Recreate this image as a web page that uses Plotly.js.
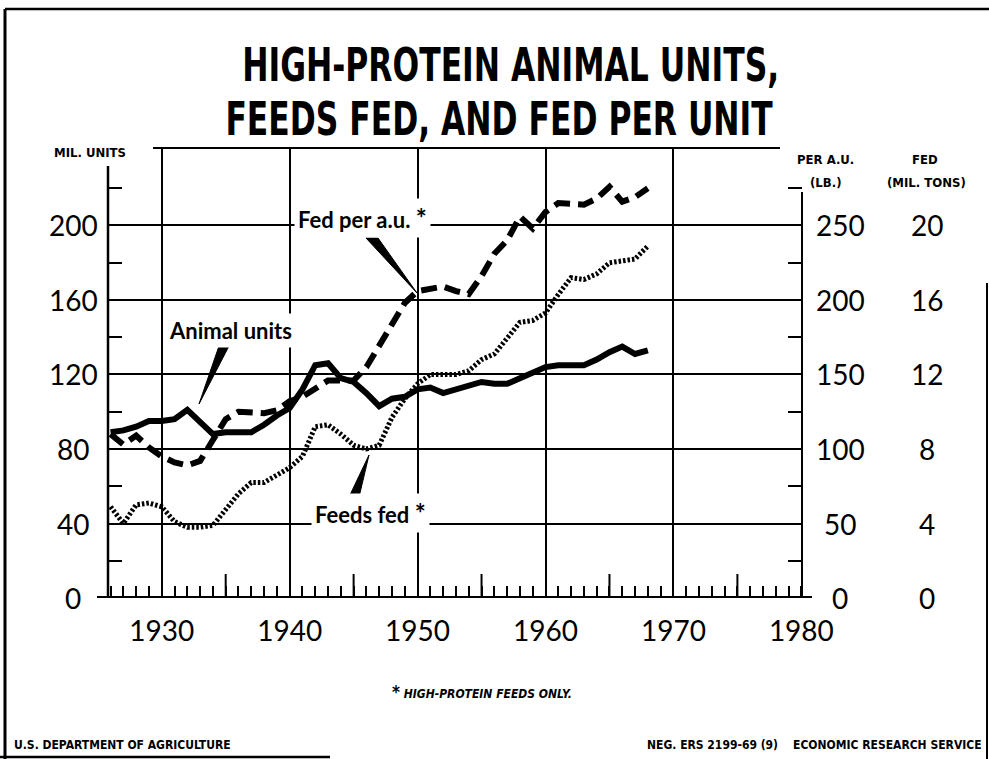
<!DOCTYPE html>
<html>
<head>
<meta charset="utf-8">
<script src="https://cdn.plot.ly/plotly-3.0.1.min.js"></script>
<style>html,body{margin:0;padding:0;background:#fff}#chart{width:989px;height:759px}</style>
</head>
<body>
<div id="chart"></div>
<script>
// ---- data ----
var years = [1926,1927,1928,1929,1930,1931,1932,1933,1934,1935,1936,1937,1938,1939,1940,
             1941,1942,1943,1944,1945,1946,1947,1948,1949,1950,1951,1952,1953,1954,1955,
             1956,1957,1958,1959,1960,1961,1962,1963,1964,1965,1966,1967,1968];
// Animal units (million units, left axis)
var animalUnits = [89,90,92,95,95,96,101,95,88,89,89,89,93,98,102,
                   112,125,126,118,116,110,103,107,108,112,113,110,112,114,116,
                   115,115,118,121,124,125,125,125,128,132,135,131,133];
// Fed per animal unit (lb., right axis "PER A.U.")
var fedPerAU = [110,103,109,101,95,91,89,92,106,120,125,125,124,126,132,
                135,140,146,146,146,155,169,184,198,206,208,209,206,204,216,
                231,240,256,248,259,265,265,264,268,276,266,269,275];
// Feeds fed (mil. tons, right axis "FED")
var feedsFed = [4.9,4.0,5.0,5.1,4.9,4.1,3.8,3.8,3.9,4.8,5.6,6.2,6.2,6.6,7.0,
                7.6,9.2,9.3,8.8,8.2,8.0,8.2,9.7,10.7,11.5,12.0,12.0,12.0,12.2,12.8,
                13.1,14.0,14.8,14.9,15.3,16.3,17.2,17.1,17.4,18.0,18.1,18.2,18.9];

var xTickVals = [1930,1940,1950,1960,1970,1980];
var xTickText = ['1930','1940','1950','1960','1970','1980'];
var xHalfDecadeTicks = [1935,1945,1955,1965,1975];
var leftTicks = [0,40,80,120,160,200];
var perAUTicks = [0,50,100,150,200,250];
var fedTicks = [0,4,8,12,16,20];

// ---- layout helpers ----
var W = 989, H = 759, ML = 108, MR = 187, MT = 148, MB = 161;
var PW = W - ML - MR, PH = H - MT - MB;
function px(x){ return (x - ML) / PW; }
function py(y){ return (H - MB - y) / PH; }

var NUMFONT = 'Lato, "Open Sans", sans-serif';
var BOLDFONT = 'Lato, "Open Sans", sans-serif';
var NARROW = '"DejaVu Sans Condensed", "DejaVu Sans", sans-serif';

var traces = [
  {x: years, y: feedsFed, xaxis: 'x', yaxis: 'y3', mode: 'lines',
   line: {color: '#000', width: 5, dash: '2.5px,2px'}, name: 'Feeds fed'},
  {x: years, y: fedPerAU, xaxis: 'x', yaxis: 'y2', mode: 'lines',
   line: {color: '#000', width: 6, dash: '16px,8px'}, name: 'Fed per a.u.'},
  {x: years, y: animalUnits, xaxis: 'x', yaxis: 'y', mode: 'lines',
   line: {color: '#000', width: 6}, name: 'Animal units'}
];

var xr = [1925.8, 1980.05];
var yr = [0, 241.6];

var annotations = [];
leftTicks.forEach(function(v){
  annotations.push({xref:'paper', yref:'y', x: px(73), y: v, text: String(v), showarrow:false,
    xanchor:'center', yanchor:'middle', font:{family:NUMFONT, size:28, color:'#000'}});
});
perAUTicks.forEach(function(v){
  annotations.push({xref:'paper', yref:'y2', x: px(840), y: v, text: String(v), showarrow:false,
    xanchor:'center', yanchor:'middle', font:{family:NUMFONT, size:28, color:'#000'}});
});
fedTicks.forEach(function(v){
  annotations.push({xref:'paper', yref:'y3', x: px(927), y: v, text: String(v), showarrow:false,
    xanchor:'center', yanchor:'middle', font:{family:NUMFONT, size:28, color:'#000'}});
});

function txt(x, y, t, font, xa, extra){
  var a = {xref:'paper', yref:'paper', x: px(x), y: py(y), text: t, showarrow:false,
    xanchor: xa || 'center', yanchor:'middle', font: font};
  if (extra) for (var k in extra) a[k] = extra[k];
  annotations.push(a);
}
var titleFont = {family: NARROW, size: 46, color:'#000', weight: 700};
txt(511, 65, 'HIGH-PROTEIN ANIMAL UNITS,', titleFont);
txt(499, 119, 'FEEDS FED, AND FED PER UNIT', titleFont);

var hdr = {family: NARROW, size: 13, color:'#000', weight: 700};
txt(90, 153, 'MIL. UNITS', hdr, 'center', {bgcolor:'#fff'});
txt(825, 160, 'PER A.U.', hdr);
txt(925, 160, 'FED', hdr);
txt(826, 182, '(LB.)', hdr);
txt(926, 182, '(MIL. TONS)', hdr);

var lab = {family: BOLDFONT, size: 22, color:'#000', weight: 700};
txt(362, 218, 'Fed per a.u. <span style="font-size:26px">*</span>', lab, 'center', {bgcolor:'#fff', borderpad:3});
txt(230, 330, 'Animal units', lab, 'center', {bgcolor:'#fff', borderpad:3});
txt(370, 513, 'Feeds fed <span style="font-size:26px">*</span>', lab, 'center', {bgcolor:'#fff', borderpad:3});

var small = {family: NARROW, size: 12, color:'#000', weight: 700, style:'italic'};
txt(482, 692, '<span style="font-size:17px">*</span> HIGH-PROTEIN FEEDS ONLY.', small);
var foot = {family: NARROW, size: 12, color:'#000', weight: 700};
txt(12, 745, 'U.S. DEPARTMENT OF AGRICULTURE', foot, 'left');
txt(984, 745, 'NEG. ERS 2199-69 (9)&nbsp;&nbsp;&nbsp;&nbsp;ECONOMIC RESEARCH SERVICE', foot, 'right');

function line(x0,y0,x1,y1,w, xref, yref){
  return {type:'line', xref: xref||'paper', yref: yref||'paper', x0:x0, y0:y0, x1:x1, y1:y1,
          line:{color:'#000', width:w}, layer:'above'};
}
function wedge(pts){
  var d = 'M ' + pts.map(function(p){ return px(p[0]) + ',' + py(p[1]); }).join(' L ') + ' Z';
  return {type:'path', xref:'paper', yref:'paper', path:d, fillcolor:'#000', line:{color:'#000', width:1}, layer:'above'};
}

var shapes = [
  // axes
  line(px(97), 0, px(812), 0, 4, 'paper', 'y'),
  line(0, 0, 0, 232, 2.5, 'paper', 'y'),
  line(1, 0, 1, 218, 2, 'paper', 'y'),
  line(px(153), 1, px(780), 1, 2),
  // outer frame
  line(px(5), py(9), px(5), py(759), 3),
  line(px(5), py(9), px(989), py(9), 2.5),
  line(px(987), py(283), px(987), py(759), 2),
  line(px(0), py(757), px(330), py(757), 2.5),
  // pointers
  wedge([[366,238],[378,238],[417,293]]),
  wedge([[219,346],[229,346],[199,404]]),
  wedge([[349,497],[359,497],[369,455]])
];
// longer ticks at the half-decades on the time axis
xHalfDecadeTicks.forEach(function(yv){
  shapes.push({type:'line', xref:'x', yref:'paper', x0: yv, x1: yv, y0: 0, y1: 24/PH,
    line:{color:'#000', width:2}, layer:'above'});
});

var layout = {
  width: W, height: H,
  margin: {l: ML, r: MR, t: MT, b: MB, pad: 0},
  paper_bgcolor: '#fff', plot_bgcolor: '#fff',
  showlegend: false,
  xaxis: {range: xr, tickmode:'array', tickvals: xTickVals, ticktext: xTickText,
    showgrid: true, gridcolor:'#000', gridwidth: 2, zeroline:false, showline:false,
    ticks:'', ticklabelstandoff: 14,
    tickfont:{family: NUMFONT, size: 28, color:'#000'},
    minor: {tickmode:'linear', tick0: 1926, dtick: 1, ticks:'inside', ticklen: 12, tickwidth: 2, tickcolor:'#000', showgrid:false}},
  yaxis: {range: yr, tickmode:'array', tickvals: leftTicks, showticklabels:false,
    showgrid:true, gridcolor:'#000', gridwidth:2, zeroline:false, showline:false, ticks:'',
    minor: {tickmode:'linear', tick0: 20, dtick: 40, ticks:'inside', ticklen: 14, tickwidth: 2, tickcolor:'#000', showgrid:false}},
  yaxis2: {range: [0, yr[1]*1.25], overlaying:'y', side:'right', anchor:'x',
    tickmode:'linear', tick0: 25, dtick: 50, ticks:'inside', ticklen: 14, tickwidth: 2, tickcolor:'#000',
    showticklabels:false, showgrid:false, zeroline:false, showline:false},
  yaxis3: {range: [0, yr[1]/10], overlaying:'y', side:'right', anchor:'x', visible:false,
    showgrid:false, zeroline:false},
  annotations: annotations,
  shapes: shapes
};

Plotly.newPlot('chart', traces, layout, {staticPlot: true, displayModeBar: false}).then(function(gd){
  // squeeze the two title lines horizontally to the condensed width of the original lettering
  var widths = {'HIGH-PROTEIN ANIMAL UNITS,': 537, 'FEEDS FED, AND FED PER UNIT': 548};
  gd.querySelectorAll('text.annotation-text').forEach(function(t){
    var w = widths[t.textContent];
    if (!w) return;
    var bb = t.getBBox();
    var cx = bb.x + bb.width / 2;
    var s = w / bb.width;
    var prev = t.getAttribute('transform') || '';
    t.setAttribute('transform', prev + ' translate(' + cx + ',0) scale(' + s + ',1) translate(' + (-cx) + ',0)');
  });
});
</script>
</body>
</html>
